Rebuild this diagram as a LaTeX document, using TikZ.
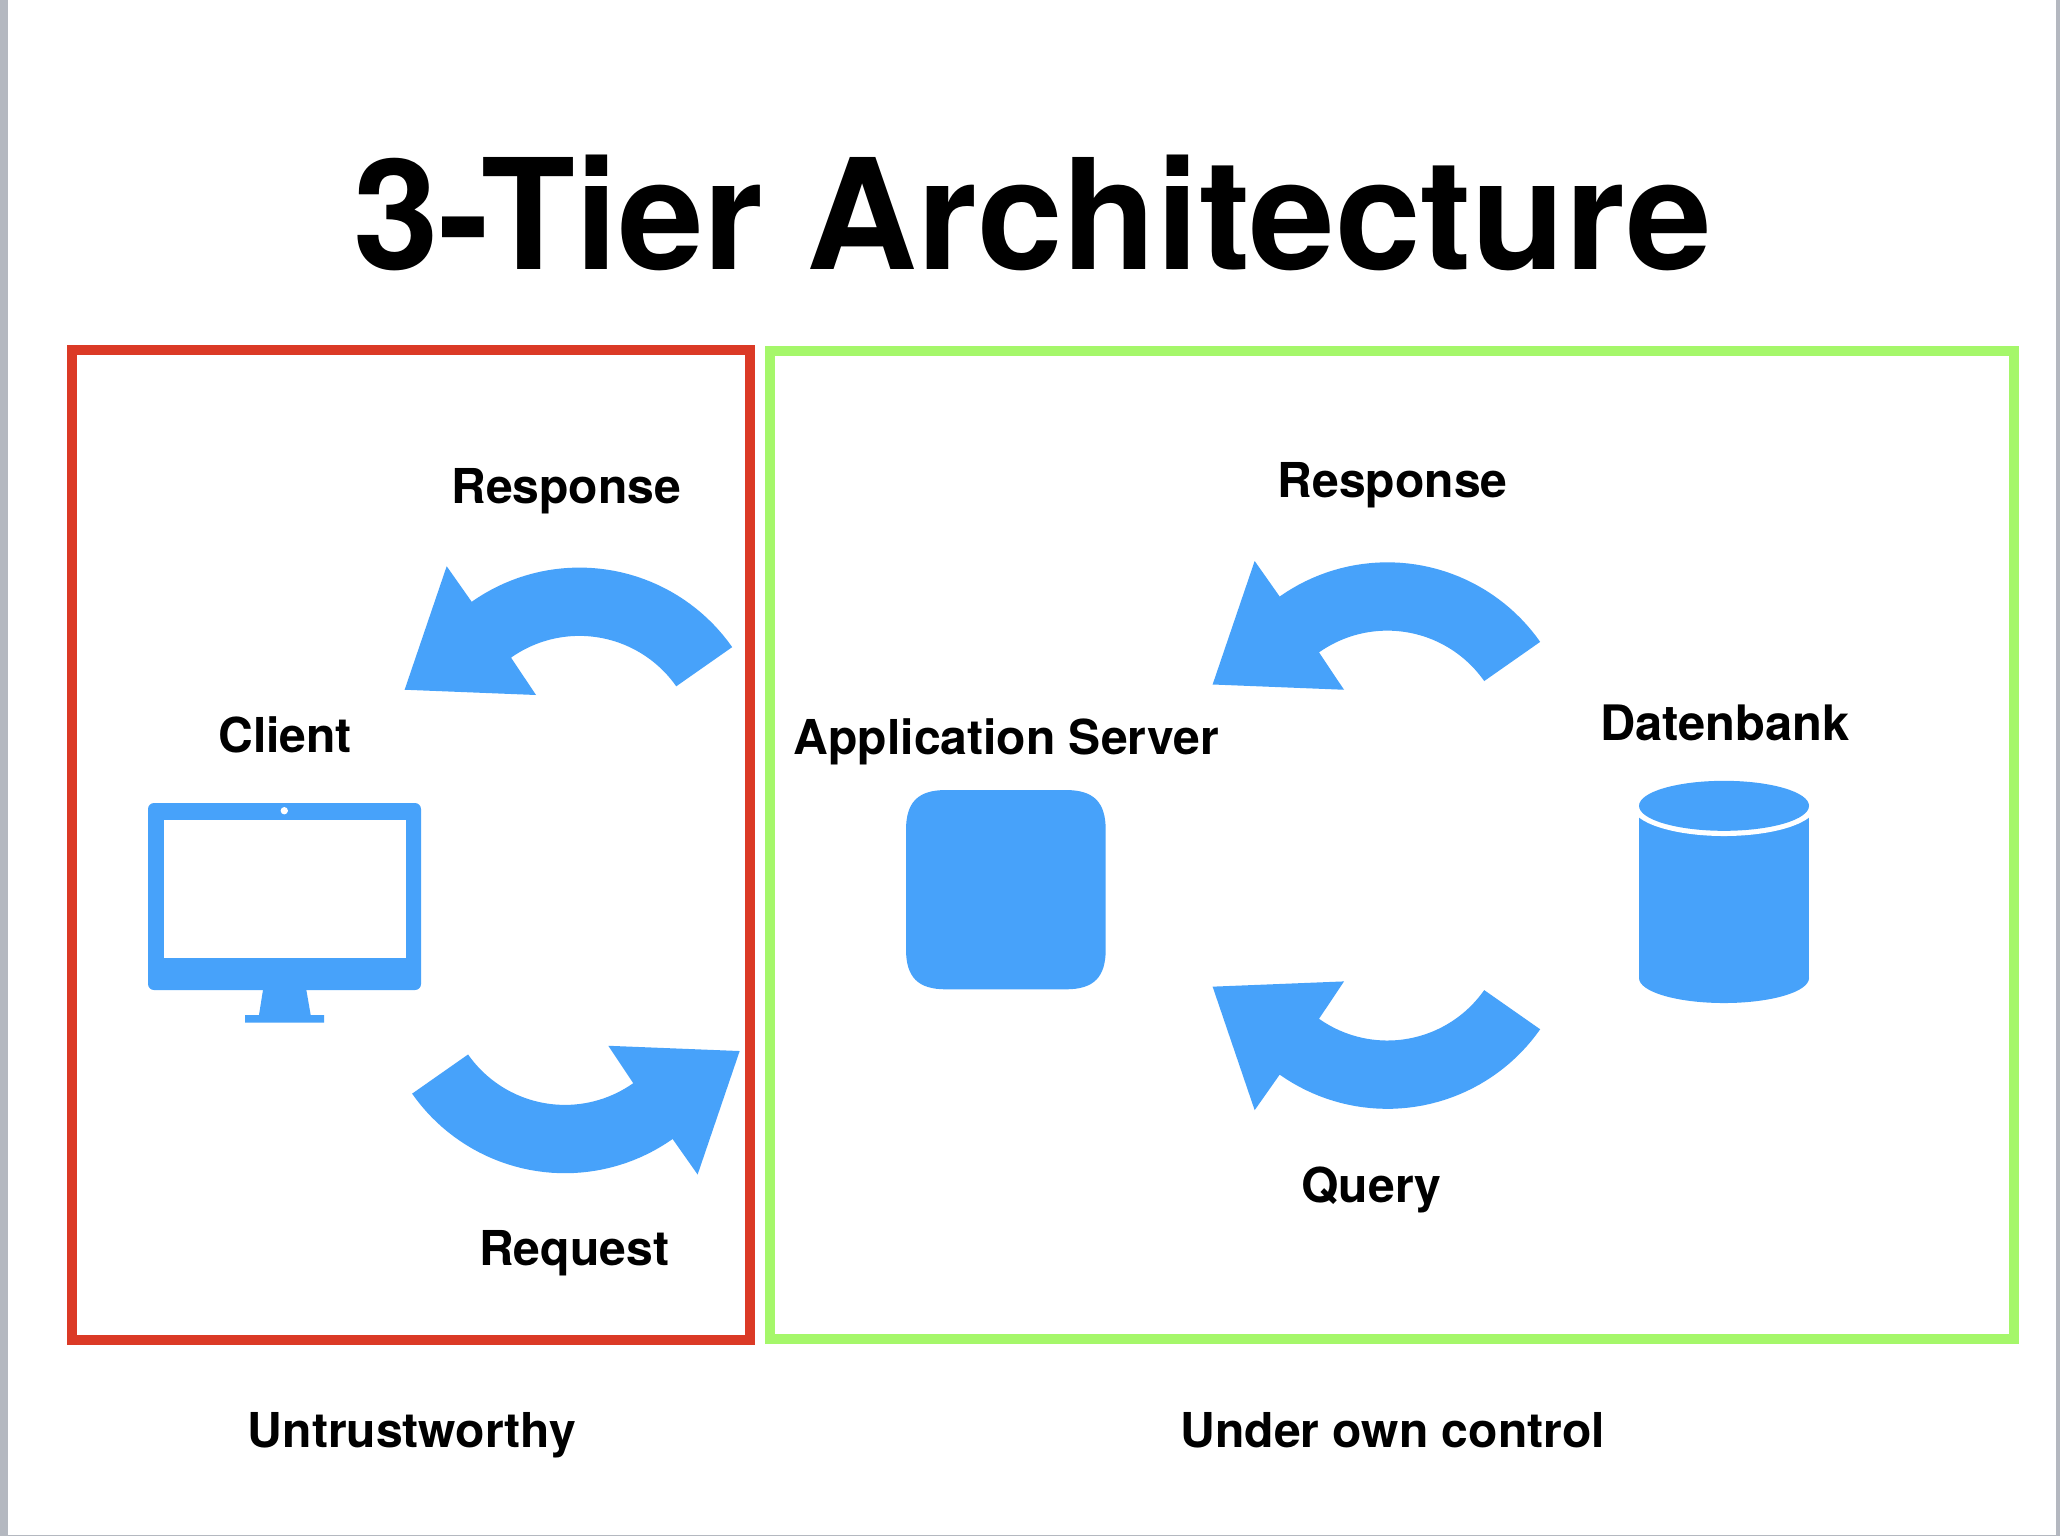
\documentclass[tikz,border=0pt]{standalone}
\usepackage{fontspec}
\setmainfont{TeX Gyre Heros}
\definecolor{iconblue}{HTML}{47A2FA}
\definecolor{boxred}{HTML}{DB3A26}
\definecolor{boxgreen}{HTML}{A5F76A}
\definecolor{edgegray}{HTML}{B4B8C0}
\tikzset{
  icon/.style={fill=iconblue,draw=none},
  tierbox/.style={line width=3.8pt,fill=none,line join=miter},
  lbl/.style={anchor=base,inner sep=0pt,font=\fontsize{18.3}{20}\bfseries\selectfont},
  ttl/.style={anchor=base,inner sep=0pt,font=\fontsize{58.5}{62}\bfseries\selectfont},
}
\newcommand{\curvearrow}[1]{%
  \begin{scope}[#1]
    \fill[iconblue] (-133,-49) -- (-101,-143) -- (-82,-116)
      -- plot[domain=125.3:35,samples=40] ({142*cos(\x)},{-142*sin(\x)})
      -- plot[domain=35:125.3,samples=40] ({90*cos(\x)},{-90*sin(\x)})
      -- (-33,-45) -- cycle;
  \end{scope}}
\begin{document}
\begin{tikzpicture}[x=0.5pt,y=-0.5pt]
\useasboundingbox (0,0) rectangle (1568,1169.1);
\fill[white] (0,0) rectangle (1568,1169.1);
\fill[edgegray] (0,0) rectangle (6,1169.1);
\fill[edgegray] (1565,0) rectangle (1568,1169.1);
\fill[edgegray] (0,1168.3) rectangle (1568,1169.1);
\node[ttl] (title) at (786,205) {3-Tier Architecture};
\draw[tierbox,draw=boxred] (54.8,266.4) rectangle (570.9,1019.7);
\draw[tierbox,draw=boxgreen] (586.4,267.2) rectangle (1533,1019);
\curvearrow{shift={(441,574)}}
\curvearrow{shift={(430,751)},xscale=-1,yscale=-1}
\curvearrow{shift={(1056,570)}}
\curvearrow{shift={(1056,702)},yscale=-1}
\node[lbl] (respL) at (431,383.5) {Response};
\node[lbl] (respR) at (1060,379) {Response};
\node[lbl] (client) at (217,572.5) {Client};
\node[lbl] (app) at (766,574.5) {Application Server};
\node[lbl,font=\fontsize{18.6}{20}\bfseries\selectfont] (db) at (1313,564) {Datenbank};
\node[lbl] (query) at (1044,915) {Query};
\node[lbl] (request) at (437,963) {Request};
\node[lbl] (untrust) at (313.5,1102) {Untrustworthy};
\node[lbl] (own) at (1060,1102) {Under own control};
\begin{scope}[x=0.38058pt,y=-0.38058pt]
  % application server (squircle)
  \fill[icon] (946,790) -- (1065.7,790)
    .. controls (1093.7,790) and (1105.7,802) .. (1105.7,830)
    -- (1105.7,949.3)
    .. controls (1105.7,977.3) and (1093.7,989.3) .. (1065.7,989.3)
    -- (946,989.3)
    .. controls (918,989.3) and (906,977.3) .. (906,949.3)
    -- (906,830)
    .. controls (906,802) and (918,790) .. (946,790) -- cycle;
  % monitor
  \fill[icon,rounded corners=2.3pt] (148,803) rectangle (421,990);
  \fill[white] (164,820) rectangle (406,958);
  \fill[white] (284.3,810.7) circle [radius=1.4pt];
  \fill[icon] (263.3,988) -- (306,988) -- (310.7,1015) -- (324,1015) -- (324,1022.7)
    -- (245,1022.7) -- (245,1015) -- (259,1015) -- cycle;
  % cylinder
  \fill[icon] (1639,806) rectangle (1809,978);
  \fill[icon] (1724,978) ellipse [x radius=85*0.38058pt,y radius=25*0.38058pt];
  \fill[white] (1724,806) ellipse [x radius=92*0.38058pt,y radius=30*0.38058pt];
  \fill[icon] (1724,805.8) ellipse [x radius=85*0.38058pt,y radius=25*0.38058pt];
\end{scope}
\end{tikzpicture}
\end{document}
